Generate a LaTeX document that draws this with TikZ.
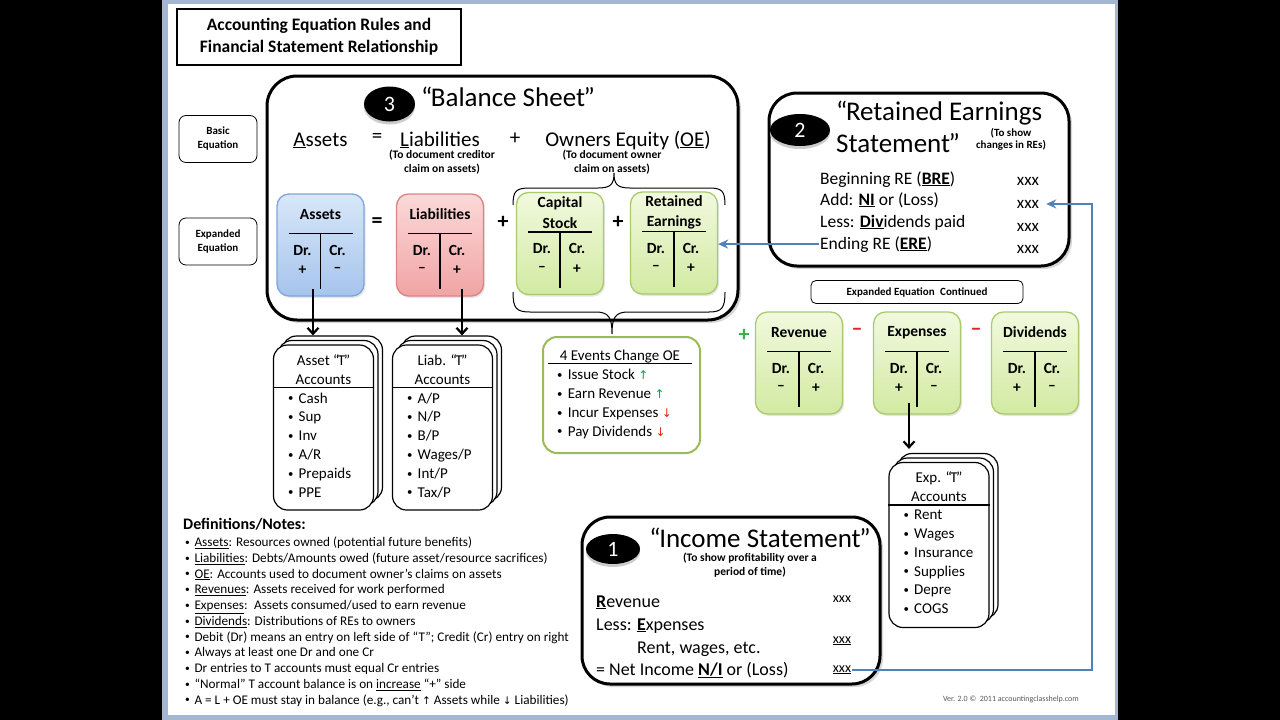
\documentclass[tikz,border=0pt]{standalone}
\usepackage{fontspec}
\usepackage{graphicx}
\setmainfont{Carlito}
\newfontfamily\arrowfont{DejaVu Sans}
\usetikzlibrary{arrows.meta,shapes.geometric,positioning,calc,shadows}
\definecolor{slideframe}{HTML}{A3B6D2}
\definecolor{linkblue}{HTML}{4F81BD}
\definecolor{tblueA}{HTML}{D9E7F9}
\definecolor{tblueB}{HTML}{A6C4EC}
\definecolor{tblueD}{HTML}{7FA7DC}
\definecolor{tredA}{HTML}{FBD9D9}
\definecolor{tredB}{HTML}{F1A4A4}
\definecolor{tredD}{HTML}{DE8383}
\definecolor{tgreenA}{HTML}{F1F9DE}
\definecolor{tgreenB}{HTML}{D2EAA2}
\definecolor{tgreenD}{HTML}{A9CB6E}
\definecolor{eventgreen}{HTML}{9BBB59}
\definecolor{upgreen}{HTML}{00A651}
\definecolor{downred}{HTML}{E3231B}
\definecolor{signgreen}{HTML}{3DAE49}
\definecolor{signred}{HTML}{D9262B}
\newcommand\itembul{\raisebox{0.08em}{\scalebox{0.72}{•}}\hspace{0.35em}}
\newcommand\openq{“\kern-1.5pt}
\newcommand\closeq{\kern-1.5pt”}

\begin{document}
\begin{tikzpicture}[x=1pt, y=-1pt,
  every node/.style={inner sep=1pt},
  titlebox/.style={draw, line width=2pt, minimum width=284, minimum height=56, align=center,
                   font=\fontsize{17.5}{22}\selectfont\bfseries},
  tagbox/.style={draw, line width=0.8pt, rounded corners=7pt, minimum width=78, minimum height=47,
                 align=center, font=\fontsize{11}{14}\selectfont\bfseries},
  stmt/.style={draw, line width=3pt, rounded corners=30pt, fill=white,
               drop shadow={shadow xshift=3pt, shadow yshift=-3pt, opacity=.3}},
  numdot/.style={ellipse, fill=black, text=white, inner sep=0pt, font=\fontsize{22}{22}\selectfont,
                 drop shadow={shadow xshift=0pt, shadow yshift=-3pt, fill=black!20, opacity=1}},
  head/.style={align=left, font=\fontsize{27}{32}\selectfont},
  eqn/.style={anchor=base, font=\fontsize{21}{24}\selectfont},
  note/.style={align=center, font=\fontsize{11.5}{14}\selectfont\bfseries},
  tbox/.style={draw, line width=1.3pt, rounded corners=12pt, minimum width=87, minimum height=102,
               drop shadow={shadow xshift=1.5pt, shadow yshift=-2pt, opacity=.2}},
  tfont/.style={align=center, font=\fontsize{15.5}{20.5}\selectfont\bfseries},
  tmark/.style={font=\fontsize{22}{22}\selectfont\bfseries},
  stack/.style={draw, line width=1.2pt, fill=white, rounded corners=14pt, minimum width=100, minimum height=165,
                copy shadow={shadow xshift=9pt, shadow yshift=9pt, draw, fill=white, line width=1.2pt},
                copy shadow={shadow xshift=4.5pt, shadow yshift=4.5pt, draw, fill=white, line width=1.2pt}},
  items/.style={anchor=north west, align=left, font=\fontsize{15}{18.8}\selectfont},
  stline/.style={anchor=base west, font=\fontsize{17.5}{21}\selectfont},
  amount/.style={anchor=base, font=\fontsize{17}{20}\selectfont},
  defline/.style={anchor=base west, font=\fontsize{13.2}{16}\selectfont},
  arr/.style={-{Straight Barb[length=6pt,width=11pt]}, line width=2.2pt},
  link/.style={draw=linkblue, line width=2pt, -{Stealth[length=10pt,width=9pt]}},
]
\useasboundingbox (0,0) rectangle (1280,720);
\fill[black] (0,0) rectangle (1280,720);
\fill[slideframe] (162,0) rectangle (1118,720);
\fill[white] (168,4) rectangle (1115,715);

\node[titlebox] (title) at (319,37) {Accounting Equation Rules and\\Financial Statement Relationship};
\node[tagbox] (basic) at (218,139) {Basic\\Equation};
\node[tagbox] (expanded) at (218,241.5) {Expanded\\Equation};

\node[stmt, minimum width=471, minimum height=244] (bsBox) at (502.5,198) {};
\node[numdot, minimum width=51, minimum height=35] (bs3) at (389.5,104) {3};
\node[head] (bsTitle) at (508,97) {\openq Balance Sheet\closeq};
\node[eqn] (eqAssets) at (320.5,146) {\underline{A}ssets};
\node[eqn] (eqIs) at (377,142) {=};
\node[eqn] (eqLiab) at (440,146) {\underline{L}iabilities};
\node[eqn] (eqPlus) at (515,144) {+};
\node[eqn] (eqOE) at (628,146) {Owners Equity (\underline{OE})};
\node[note] (liabNote) at (442,162) {(To document creditor\\claim on assets)};
\node[note] (oeNote) at (612,162) {(To document owner\\claim on assets)};

\foreach \nm/\cx/\cy/\look/\ttl/\lsign/\rsign in {
  assetsT/320.5/245/tblue/Assets/+/–,
  liabT/440/245/tred/Liabilities/–/+,
  capT/560/243.5/tgreen/{Capital\\Stock}/–/+,
  reT/674/243/tgreen/{Retained\\Earnings}/–/+,
  revT/799/363/tgreen/Revenue/–/+,
  expT/917/363/tgreen/Expenses/+/–,
  divT/1035/363/tgreen/Dividends/+/–}{
  \node[tbox, draw=\look D, top color=\look A, bottom color=\look B] (\nm) at (\cx,\cy) {};
  \node[tfont] (\nm-ttl) at ([yshift=-21pt]\nm.north) {\ttl};
  \node[tfont] (\nm-dr) at ([xshift=-18pt,yshift=-57pt]\nm.north) {Dr.};
  \node[tfont] (\nm-cr) at ([xshift=17pt,yshift=-57pt]\nm.north) {Cr.};
  \node[tfont] (\nm-ls) at ([xshift=-18pt,yshift=-77pt]\nm.north) {\lsign};
  \node[tfont] (\nm-rs) at ([xshift=17pt,yshift=-77pt]\nm.north) {\rsign};
  \draw[line width=1.3pt] ([xshift=-32pt,yshift=-40pt]\nm.north) -- ([xshift=32pt,yshift=-40pt]\nm.north)
    ([yshift=-40pt]\nm.north) -- ([yshift=-96pt]\nm.north);
}
\node[tmark] (tEq) at (377,223) {=};
\node[tmark] (tPlus1) at (503,222) {+};
\node[tmark] (tPlus2) at (618,222) {+};
\node[tmark, text=signgreen] (revPlus) at (744,335) {+};
\node[tmark, text=signred] (expMinus) at (857,332) {–};
\node[tmark, text=signred] (divMinus) at (976,332) {–};

\draw[line width=1pt] (513,205) .. controls (513,191) and (516,188) .. (530,188) -- (598,188)
  .. controls (611,188) and (614,184) .. (614,173) .. controls (614,184) and (617,188) .. (630,188)
  -- (709,188) .. controls (722,188) and (725,191) .. (725,205);
\draw[line width=1pt] (513,292) .. controls (513,308) and (516,312) .. (530,312) -- (596,312)
  .. controls (609,312) and (612,318) .. (612,334) .. controls (612,318) and (615,312) .. (628,312)
  -- (709,312) .. controls (722,312) and (725,308) .. (725,292);

\foreach \nm/\cx/\cy/\ttl/\list in {
  assetStk/323.5/427.5/{Asset \openq T\closeq\\Accounts}/{\itembul Cash\\\itembul Sup\\\itembul Inv\\\itembul A/R\\\itembul Prepaids\\\itembul PPE},
  liabStk/442.5/427.5/{Liab. \openq T\closeq\\Accounts}/{\itembul A/P\\\itembul N/P\\\itembul B/P\\\itembul Wages/P\\\itembul Int/P\\\itembul Tax/P},
  expStk/939/545/{Exp. \openq T\closeq\\Accounts}/{\itembul Rent\\\itembul Wages\\\itembul Insurance\\\itembul Supplies\\\itembul Depre\\\itembul COGS}}{
  \node[stack] (\nm) at (\cx,\cy) {};
  \node[align=center, font=\fontsize{15}{19}\selectfont] (\nm-ttl) at ([yshift=-25pt]\nm.north) {\ttl};
  \draw[line width=1.2pt] ([yshift=-43pt]\nm.north west) -- ([yshift=-43pt]\nm.north east);
  \node[items] (\nm-list) at ([shift={(14,47)}]\nm.north west) {\list};
}
\draw[arr] ([shift={(-7.5,-8)}]assetsT.south) -- ([shift={(-10.5,-9)}]assetStk.north);
\draw[arr] ([shift={(22,-8)}]liabT.south) -- ([shift={(19.5,-9)}]liabStk.north);
\draw[arr] ([shift={(-8,-12)}]expT.south) -- ([shift={(-30,-13)}]expStk.north);

\node[draw=eventgreen, line width=2pt, rounded corners=14pt, fill=white, minimum width=157,
      minimum height=116] (events) at (621.5,395) {};
\node[font=\fontsize{15}{18}\selectfont] (eventsTtl) at (620,357) {4 Events Change OE};
\draw[line width=1pt] ([shift={(6,27)}]events.north west) -- ([shift={(-9,27)}]events.north east);
\node[items] (eventsList) at ([shift={(14,32)}]events.north west)
  {\itembul Issue Stock {\arrowfont\fontsize{12}{12}\selectfont\color{upgreen}↑}\\
   \itembul Earn Revenue {\arrowfont\fontsize{12}{12}\selectfont\color{upgreen}↑}\\
   \itembul Incur Expenses {\arrowfont\fontsize{12}{12}\selectfont\color{downred}↓}\\
   \itembul Pay Dividends {\arrowfont\fontsize{12}{12}\selectfont\color{downred}↓}};

\node[stmt, rounded corners=28pt, minimum width=300, minimum height=173] (reBox) at (919,179.5) {};
\node[numdot, minimum width=60, minimum height=32] (re2) at (800,130) {2};
\node[head, anchor=west] (reTitle) at (835,127) {\openq Retained Earnings\\Statement\closeq};
\node[note, font=\fontsize{11}{12}\selectfont\bfseries] (reNote) at (1011,139) {(To show\\changes in REs)};
\node[stline] (bre) at (819,184) {Beginning RE (\textbf{\underline{BRE}})};
\node[stline] (ni) at (819,205) {Add: \textbf{\underline{NI}} or (Loss)};
\node[stline] (div) at (819,227) {Less: \textbf{\underline{Div}}idends paid};
\node[stline] (ere) at (819,249) {Ending RE (\textbf{\underline{ERE}})};
\node[amount] (breX) at (1028,185) {xxx};
\node[amount] (niX) at (1028,208) {xxx};
\node[amount] (divX) at (1028,231) {xxx};
\node[amount] (ereX) at (1028,253) {xxx};
\node[tagbox, minimum width=212, minimum height=23, rounded corners=5pt] (contd) at (917,292)
  {Expanded Equation\enspace Continued};

\node[stmt, rounded corners=28pt, minimum width=298, minimum height=167] (isBox) at (731,600.5) {};
\node[numdot, minimum width=54, minimum height=30] (is1) at (613,549) {1};
\node[head] (isTitle) at (760,538) {\openq Income Statement\closeq};
\node[note] (isNote) at (750,565) {(To show profitability over a\\period of time)};
\node[stline, font=\fontsize{18}{21}\selectfont] (isRev) at (595,607) {\textbf{\underline{R}}evenue};
\node[stline, font=\fontsize{18}{21}\selectfont] (isLess) at (595,630) {Less: \textbf{\underline{E}}xpenses};
\node[stline, font=\fontsize{18}{21}\selectfont] (isRent) at (636,653) {Rent, wages, etc.};
\node[stline, font=\fontsize{18}{21}\selectfont] (isNet) at (595,675) {= Net Income \textbf{\underline{N/I}} or (Loss)};
\node[amount, font=\fontsize{14}{16}\selectfont] (isRevX) at (842,602) {xxx};
\node[amount, font=\fontsize{14}{16}\selectfont] (isExpX) at (842,643) {\underline{xxx}};
\node[amount, font=\fontsize{14}{16}\selectfont] (isNetX) at (842,672) {\underline{xxx}};

\draw[link] (ere.west) -- (ere.west -| reT.east);
\coordinate (bend) at (1092,0);
\draw[link] (isNetX.east) -- (isNetX.east -| bend) |- ([xshift=6pt]niX.east);

\node[anchor=base west, font=\fontsize{16}{19}\selectfont\bfseries] (defsTitle) at (182,529.5) {Definitions/Notes:};
\foreach \t [count=\i] in {
  {\underline{Assets}: Resources owned (potential future benefits)},
  {\underline{Liabilities}: Debts/Amounts owed (future asset/resource sacrifices)},
  {\underline{OE}: Accounts used to document owner’s claims on assets},
  {\underline{Revenues}: Assets received for work performed},
  {\underline{Expenses}:\enspace Assets consumed/used to earn revenue},
  {\underline{Dividends}: Distributions of REs to owners},
  {Debit (Dr) means an entry on left side of “T”; Credit (Cr) entry on right},
  {Always at least one Dr and one Cr},
  {Dr entries to T accounts must equal Cr entries},
  {“Normal” T account balance is on \underline{increase} “+” side},
  {A = L + OE must stay in balance (e.g., can’t {\arrowfont\fontsize{10.5}{11}\selectfont↑} Assets while {\arrowfont\fontsize{10.5}{11}\selectfont↓} Liabilities)}}{
  \node[defline] (def\i) at (184,530.75+15.75*\i) {\itembul\t};
}
\node[anchor=base east, font=\fontsize{8}{9}\selectfont, text=black!65] (version) at (1080,701)
  {Ver. 2.0 © \ 2011 accountingclasshelp.com};
\end{tikzpicture}
\end{document}
